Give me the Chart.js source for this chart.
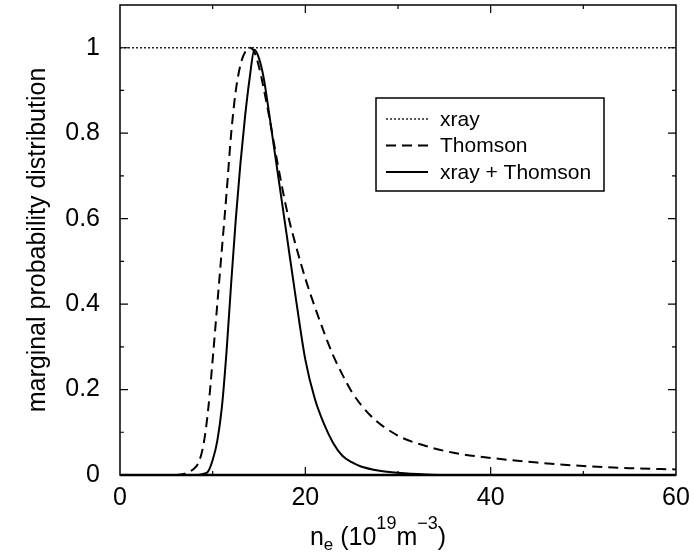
<!DOCTYPE html>
<html>
<head>
<meta charset="utf-8">
<script src="https://cdn.jsdelivr.net/npm/chart.js@4.4.0/dist/chart.umd.min.js"></script>
<style>
  html, body { margin: 0; padding: 0; background: #fff; }
  #wrap { width: 695px; height: 554px; }
</style>
</head>
<body>
<div id="wrap"><canvas id="pdfChart"></canvas></div>
<script>
// values
const xrayX = [0, 60];
const xrayY = [1, 1];

const thomsonX = [6, 7, 7.5, 8, 8.5, 9, 9.5, 10, 10.5, 11, 11.5, 12, 12.5, 13, 13.5, 14, 14.5, 15, 16, 17, 18, 19, 20, 21, 22, 23, 24, 25, 27, 30, 33, 36, 40, 45, 50, 55, 60];
const thomsonY = [0, 0.003, 0.008, 0.015, 0.03, 0.07, 0.15, 0.27, 0.40, 0.53, 0.66, 0.80, 0.90, 0.96, 0.99, 1.0, 0.99, 0.955, 0.85, 0.73, 0.62, 0.535, 0.46, 0.395, 0.335, 0.28, 0.235, 0.195, 0.14, 0.092, 0.068, 0.052, 0.04, 0.029, 0.021, 0.016, 0.013];

const combinedX = [8.5, 9, 9.5, 10, 10.5, 11, 11.5, 12, 12.5, 13, 13.5, 14, 14.5, 15, 15.5, 16, 17, 18, 19, 20, 21, 22, 23, 24, 25, 26, 28, 30, 33, 35];
const combinedY = [0, 0.003, 0.008, 0.035, 0.08, 0.16, 0.29, 0.45, 0.60, 0.73, 0.84, 0.93, 0.995, 0.975, 0.93, 0.86, 0.71, 0.56, 0.41, 0.27, 0.18, 0.12, 0.075, 0.045, 0.03, 0.02, 0.01, 0.005, 0.001, 0];

const seriesLabels = ['xray', 'Thomson', 'xray + Thomson'];

const xTicks = [0, 20, 40, 60];
const xMinorTicks = [10, 30, 50];
const yTicks = [0, 0.2, 0.4, 0.6, 0.8, 1];
const yMinorTicks = [0.1, 0.3, 0.5, 0.7, 0.9];

const FONT = "'Liberation Sans', Arial, Helvetica, sans-serif";

function toPoints(xs, ys) {
    return xs.map((x, i) => ({ x: x, y: ys[i] }));
}

// box round the plot with inward ticks on all four sides
const framePlugin = {
    id: 'frame',
    afterDatasetsDraw(chart) {
        const { ctx, chartArea: a, scales } = chart;
        const xs = scales.x, ys = scales.y;
        ctx.save();
        ctx.strokeStyle = '#000';
        ctx.lineWidth = 1.5;
        ctx.strokeRect(a.left, a.top, a.right - a.left, a.bottom - a.top);
        ctx.lineWidth = 2.5;
        ctx.beginPath();
        ctx.moveTo(a.left, a.bottom);
        ctx.lineTo(a.right, a.bottom);
        ctx.stroke();

        ctx.lineWidth = 1.2;
        ctx.beginPath();
        const xt = (vals, len) => vals.forEach(v => {
            const px = xs.getPixelForValue(v);
            ctx.moveTo(px, a.bottom); ctx.lineTo(px, a.bottom - len);
            ctx.moveTo(px, a.top); ctx.lineTo(px, a.top + len);
        });
        const yt = (vals, len) => vals.forEach(v => {
            const py = ys.getPixelForValue(v);
            ctx.moveTo(a.left, py); ctx.lineTo(a.left + len, py);
            ctx.moveTo(a.right, py); ctx.lineTo(a.right - len, py);
        });
        xt(xTicks.slice(1, -1), 8);
        xt(xMinorTicks, 4);
        yt(yTicks.slice(1), 8);
        yt(yMinorTicks, 4);
        ctx.stroke();
        ctx.restore();
    }
};

// legend box inside the plot, drawn from the dataset styles
const legendPlugin = {
    id: 'boxLegend',
    afterDraw(chart) {
        const { ctx } = chart;
        const bx = 376, by = 98, bw = 228, bh = 93;
        ctx.save();
        ctx.fillStyle = '#fff';
        ctx.fillRect(bx, by, bw, bh);
        ctx.strokeStyle = '#000';
        ctx.lineWidth = 1.5;
        ctx.strokeRect(bx, by, bw, bh);
        chart.data.datasets.forEach((ds, i) => {
            const yy = by + 21 + i * 26.5;
            ctx.strokeStyle = ds.borderColor;
            ctx.lineWidth = ds.borderWidth;
            ctx.setLineDash(ds.borderDash || []);
            ctx.beginPath();
            ctx.moveTo(bx + 10, yy);
            ctx.lineTo(bx + 52, yy);
            ctx.stroke();
            ctx.setLineDash([]);
            ctx.fillStyle = '#000';
            ctx.font = '21px ' + FONT;
            ctx.textAlign = 'left';
            ctx.textBaseline = 'middle';
            ctx.fillText(ds.label, bx + 64, yy + 1);
        });
        ctx.restore();
    }
};

// x axis title with sub/superscripts
const xTitlePlugin = {
    id: 'xTitle',
    afterDraw(chart) {
        const { ctx } = chart;
        const parts = [
            ['n', 25, 0],
            ['e', 17, 5],
            [' (10', 25, 0],
            ['19', 18, -16],
            ['m', 25, 0],
            ['\u2212' + '3', 18, -16],
            [')', 25, 0]
        ];
        ctx.save();
        ctx.fillStyle = '#000';
        ctx.textBaseline = 'alphabetic';
        ctx.textAlign = 'left';
        let total = 0;
        parts.forEach(p => { ctx.font = p[1] + 'px ' + FONT; total += ctx.measureText(p[0]).width; });
        let x = 378 - total / 2;
        const base = 545;
        parts.forEach(p => {
            ctx.font = p[1] + 'px ' + FONT;
            ctx.fillText(p[0], x, base + p[2]);
            x += ctx.measureText(p[0]).width;
        });
        ctx.restore();
    }
};

const ctx = document.getElementById('pdfChart').getContext('2d');
new Chart(ctx, {
    type: 'line',
    data: {
        datasets: [{
            label: seriesLabels[0],
            data: toPoints(xrayX, xrayY),
            borderColor: '#222',
            borderWidth: 1.5,
            borderDash: [2, 2]
        }, {
            label: seriesLabels[1],
            data: toPoints(thomsonX, thomsonY),
            borderColor: '#000',
            borderWidth: 2,
            borderDash: [10, 6],
            cubicInterpolationMode: 'monotone'
        }, {
            label: seriesLabels[2],
            data: toPoints(combinedX, combinedY),
            borderColor: '#000',
            borderWidth: 2,
            cubicInterpolationMode: 'monotone'
        }]
    },
    options: {
        responsive: true,
        maintainAspectRatio: false,
        animation: false,
        elements: {
            point: { radius: 0 }
        },
        layout: {
            padding: { top: 5, right: 19, bottom: 0, left: 0 }
        },
        scales: {
            x: {
                type: 'linear',
                min: 0,
                max: 60,
                grid: { display: false, drawTicks: false },
                border: { display: false },
                afterBuildTicks: axis => { axis.ticks = xTicks.map(v => ({ value: v })); },
                afterFit: axis => {
                    axis.height = 79;
                    axis.paddingLeft = 0;
                    axis.paddingRight = 0;
                },
                ticks: {
                    padding: 8,
                    color: '#000',
                    font: { family: FONT, size: 25 },
                    maxRotation: 0,
                    callback: v => String(v)
                }
            },
            y: {
                min: 0,
                max: 1.1,
                grid: { display: false, drawTicks: false },
                border: { display: false },
                afterBuildTicks: axis => { axis.ticks = yTicks.map(v => ({ value: v })); },
                afterFit: axis => {
                    axis.width = 120;
                    axis.paddingTop = 0;
                    axis.paddingBottom = 0;
                },
                ticks: {
                    padding: 20,
                    color: '#000',
                    font: { family: FONT, size: 25 },
                    callback: v => String(+v.toFixed(1))
                },
                title: {
                    display: true,
                    text: 'marginal probability distribution',
                    color: '#000',
                    font: { family: FONT, size: 25 },
                    padding: { top: 23, bottom: 0 }
                }
            }
        },
        plugins: {
            legend: { display: false },
            tooltip: { enabled: false }
        }
    },
    plugins: [framePlugin, legendPlugin, xTitlePlugin]
});
</script>
</body>
</html>
